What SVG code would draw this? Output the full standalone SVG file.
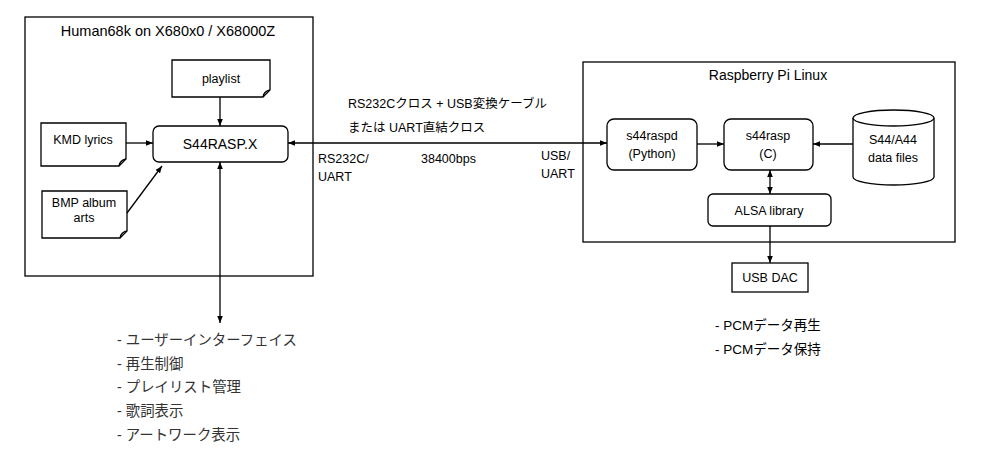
<svg xmlns="http://www.w3.org/2000/svg" width="986" height="468" viewBox="0 0 986 468">
<style>
.b{fill:#fff;stroke:#000;stroke-width:1.3}
.t{font-family:"Liberation Sans","Noto Sans CJK JP",sans-serif;font-size:12.5px;fill:#000}
.j{font-family:"Liberation Sans","Noto Sans CJK JP",sans-serif;font-size:14.4px;fill:#333}
.p{font-family:"Liberation Sans","Noto Sans CJK JP",sans-serif;font-size:13.5px;fill:#000}
.h{font-family:"Liberation Sans","Noto Sans CJK JP",sans-serif;font-size:14.5px;fill:#000}
.c{stroke:#000;stroke-width:1.3;fill:none}
</style>
<defs>
<marker id="ah" viewBox="0 0 10 10" refX="10" refY="5" markerWidth="7" markerHeight="7" orient="auto-start-reverse" markerUnits="userSpaceOnUse">
<path d="M0,1 L10,5 L0,9 Z" fill="#000"/>
</marker>
</defs>
<rect width="986" height="468" fill="#fff"/>
<g id="human68k">
<rect class="b" x="25" y="17" width="288" height="259"/>
<text class="h" x="168" y="36" text-anchor="middle">Human68k on X680x0 / X68000Z</text>
</g>
<g id="rpi">
<rect class="b" x="583" y="62" width="372" height="180"/>
<text class="h" x="768" y="80" text-anchor="middle" style="font-size:14px">Raspberry Pi Linux</text>
</g>
<g id="playlist">
<path class="b" d="M172,60 H270 V90 L263,97 H172 Z"/>
<path class="c" d="M263,97 Q264,91 270,90" stroke-width="1"/>
<text class="t" x="221" y="83" text-anchor="middle">playlist</text>
</g>
<g id="kmd">
<path class="b" d="M41,123 H126 V159 L119,166 H41 Z"/>
<path class="c" d="M119,166 Q120,160 126,159" stroke-width="1"/>
<text class="t" x="83" y="144" text-anchor="middle">KMD lyrics</text>
</g>
<g id="bmp">
<path class="b" d="M42,191 H127 V231 L120,238 H42 Z"/>
<path class="c" d="M120,238 Q121,232 127,231" stroke-width="1"/>
<text class="t" x="84" y="207" text-anchor="middle">BMP album</text>
<text class="t" x="84" y="222" text-anchor="middle">arts</text>
</g>
<g id="s44raspx">
<rect class="b" x="153" y="126" width="135" height="36" rx="6"/>
<text class="t" x="220" y="149" text-anchor="middle" style="font-size:14px">S44RASP.X</text>
</g>
<g id="s44raspd">
<rect class="b" x="607" y="119" width="90" height="51" rx="7"/>
<text class="t" x="652" y="140" text-anchor="middle">s44raspd</text>
<text class="t" x="652" y="158" text-anchor="middle">(Python)</text>
</g>
<g id="s44rasp">
<rect class="b" x="724" y="119" width="89" height="51" rx="7"/>
<text class="t" x="768" y="140" text-anchor="middle">s44rasp</text>
<text class="t" x="768" y="158" text-anchor="middle">(C)</text>
</g>
<g id="datafiles">
<path class="b" d="M853,118 V177 A40.5,8 0 0 0 934,177 V118"/>
<ellipse class="b" cx="893.5" cy="118" rx="40.5" ry="8"/>
<text class="t" x="893" y="144" text-anchor="middle">S44/A44</text>
<text class="t" x="893" y="162" text-anchor="middle">data files</text>
</g>
<g id="alsa">
<rect class="b" x="708" y="194" width="123" height="32" rx="5"/>
<text class="t" x="769" y="215" text-anchor="middle">ALSA library</text>
</g>
<g id="usbdac">
<rect class="b" x="732" y="263" width="76" height="29"/>
<text class="t" x="770" y="282" text-anchor="middle">USB DAC</text>
</g>
<g id="connectors">
<line class="c" x1="220" y1="97" x2="220" y2="126" marker-end="url(#ah)"/>
<line class="c" x1="126" y1="143" x2="153" y2="143" marker-end="url(#ah)"/>
<line class="c" x1="127" y1="213" x2="162" y2="166" marker-end="url(#ah)"/>
<line class="c" x1="220" y1="162" x2="220" y2="323" marker-start="url(#ah)" marker-end="url(#ah)"/>
<line class="c" x1="288" y1="143" x2="607" y2="143" marker-start="url(#ah)" marker-end="url(#ah)"/>
<line class="c" x1="697" y1="144" x2="724" y2="144" marker-end="url(#ah)"/>
<line class="c" x1="853" y1="144" x2="813" y2="144" marker-end="url(#ah)"/>
<line class="c" x1="770" y1="170" x2="770" y2="194" marker-start="url(#ah)" marker-end="url(#ah)"/>
<line class="c" x1="770" y1="226" x2="770" y2="263" marker-end="url(#ah)"/>
</g>
<g id="labels">
<text class="t" x="348" y="108">RS232Cクロス + USB変換ケーブル</text>
<text class="t" x="348" y="132">または UART直結クロス</text>
<text class="t" x="318" y="163">RS232C/</text>
<text class="t" x="318" y="181">UART</text>
<text class="t" x="421" y="163">38400bps</text>
<text class="t" x="541" y="160">USB/</text>
<text class="t" x="541" y="178">UART</text>
<text class="j" x="117" y="345">- ユーザーインターフェイス</text>
<text class="j" x="117" y="369">- 再生制御</text>
<text class="j" x="117" y="392">- プレイリスト管理</text>
<text class="j" x="117" y="416">- 歌詞表示</text>
<text class="j" x="117" y="440">- アートワーク表示</text>
<text class="p" x="715" y="330">- PCMデータ再生</text>
<text class="p" x="715" y="354">- PCMデータ保持</text>
</g>
</svg>
